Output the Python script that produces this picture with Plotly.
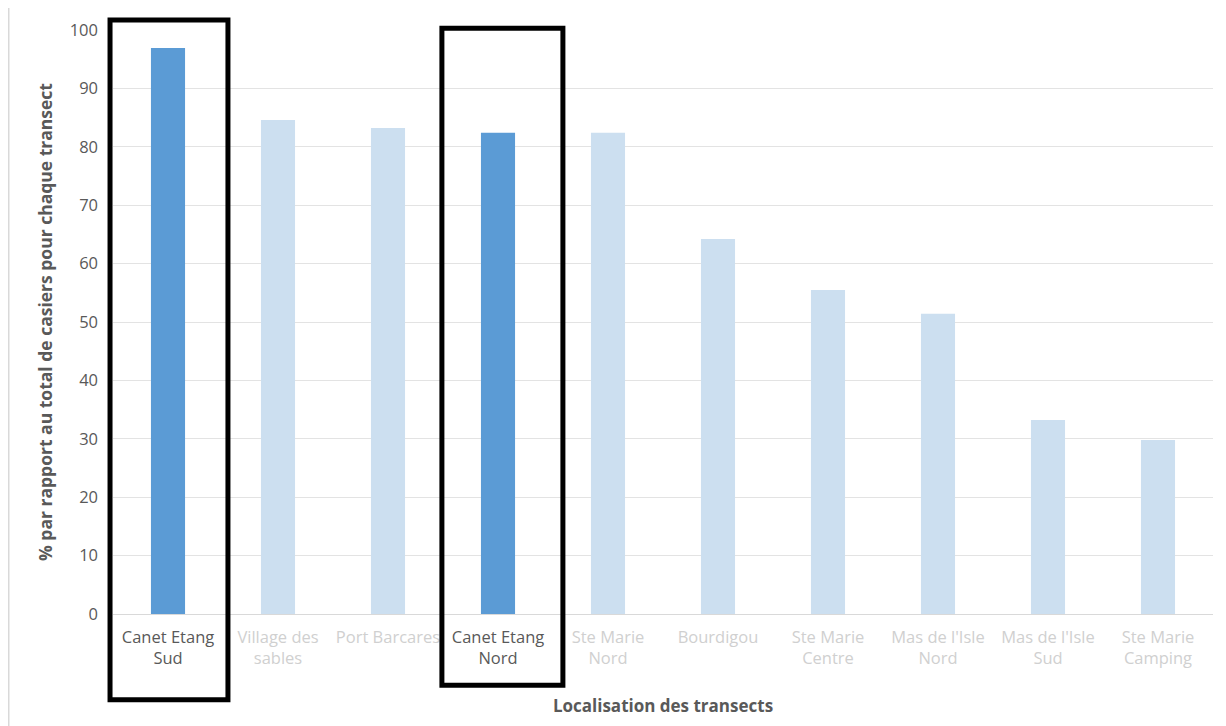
import plotly.graph_objects as go

categories = ["Canet Etang<br>Sud", "Village des<br>sables", "Port Barcares", "Canet Etang<br>Nord",
              "Ste Marie<br>Nord", "Bourdigou", "Ste Marie<br>Centre", "Mas de l'Isle<br>Nord",
              "Mas de l'Isle<br>Sud", "Ste Marie<br>Camping"]
values = [96.9, 84.6, 83.2, 82.4, 82.4, 64.2, 55.5, 51.4, 33.2, 29.8]
highlighted = [True, False, False, True, False, False, False, False, False, False]
y_ticks = [0, 10, 20, 30, 40, 50, 60, 70, 80, 90, 100]

DARK = "#5B9BD5"
LIGHT = "#CCDFF0"
TXT_DARK = "#595959"
TXT_LIGHT = "#D0D0D0"

n = len(categories)
xs = list(range(n))
colors = [DARK if h else LIGHT for h in highlighted]
ticktext = [f'<span style="color:{TXT_DARK if h else TXT_LIGHT}">{c}</span>'
            for c, h in zip(categories, highlighted)]

fig = go.Figure(go.Bar(x=xs, y=values, marker=dict(color=colors, line=dict(width=0)),
                       width=0.31))

# highlight boxes (paper coordinates derived from category index)
box_extent = {0: (-0.527, 0.545, -0.147, 1.017), 3: (-0.51, 0.59, -0.122, 1.003)}
shapes = []
for i, h in enumerate(highlighted):
    if h:
        dl, dr, yb, yt = box_extent[i]
        shapes.append(dict(type="rect", xref="paper", yref="paper",
                           x0=(i + 0.5 + dl) / n, x1=(i + 0.5 + dr) / n, y0=yb, y1=yt,
                           line=dict(color="black", width=5), fillcolor="rgba(0,0,0,0)",
                           layer="above"))
shapes.append(dict(type="line", xref="paper", yref="paper", x0=-0.095, x1=-0.095,
                   y0=-0.25, y1=1.1, line=dict(color="#D9D9D9", width=2)))

fig.update_layout(
    width=1226, height=726,
    margin=dict(l=105, r=21, t=22, b=120, autoexpand=False),
    paper_bgcolor="white", plot_bgcolor="white",
    font=dict(family="Open Sans", size=16, color=TXT_DARK),
    showlegend=False,
    shapes=shapes,
    xaxis=dict(tickmode="array", tickvals=xs, ticktext=ticktext, range=[-0.5, n - 0.5],
               showgrid=False, showline=True, linecolor="#D9D9D9", linewidth=1,
               ticks="", tickfont=dict(size=16.5), ticklabelstandoff=8,
               title=dict(text="<b>Localisation des transects</b>", standoff=31,
                          font=dict(size=17, color=TXT_DARK))),
    yaxis=dict(range=[0, 100], tickvals=y_ticks, showgrid=True, gridcolor="#E3E3E3",
               gridwidth=1, zeroline=False, ticks="", ticklabelstandoff=14,
               tickfont=dict(size=16.5, color=TXT_DARK),
               title=dict(text="<b>% par rapport au total de casiers pour chaque transect</b>",
                          standoff=12, font=dict(size=17.5, color=TXT_DARK))),
)

fig.write_html("out.html")
